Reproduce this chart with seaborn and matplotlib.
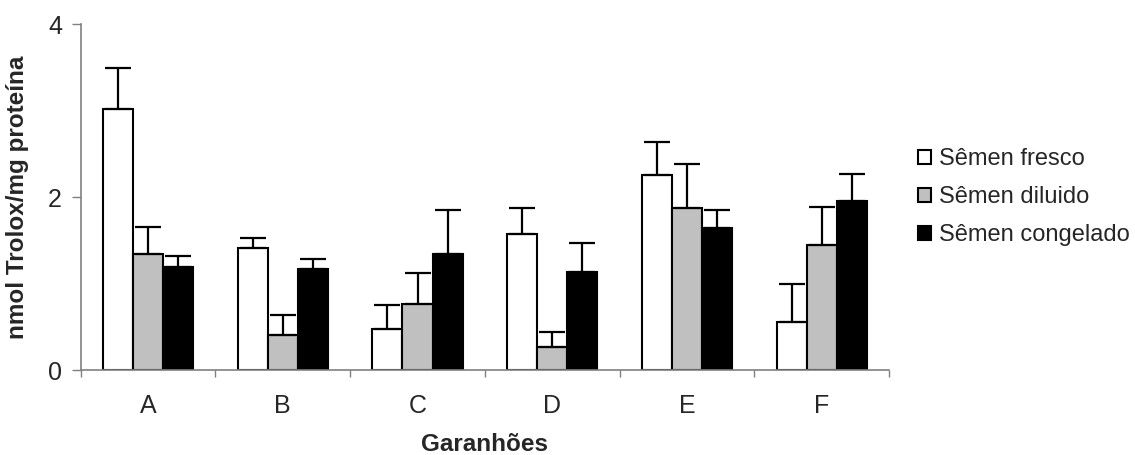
import pandas as pd
import seaborn as sns
import matplotlib.pyplot as plt
from matplotlib.ticker import FixedLocator

# %%
garanhoes = ["A", "B", "C", "D", "E", "F"]
tratamentos = ["Sêmen fresco", "Sêmen diluido", "Sêmen congelado"]
fresco = [3.02, 1.41, 0.47, 1.57, 2.26, 0.55]
diluido = [1.34, 0.40, 0.76, 0.27, 1.87, 1.45]
congelado = [1.19, 1.17, 1.34, 1.13, 1.64, 1.96]
fresco_err = [0.47, 0.12, 0.28, 0.30, 0.38, 0.45]
diluido_err = [0.32, 0.24, 0.36, 0.17, 0.51, 0.44]
congelado_err = [0.13, 0.11, 0.51, 0.34, 0.21, 0.31]
cores = ["white", "#C0C0C0", "black"]

# %%
df = pd.DataFrame({
    "garanhao": garanhoes * 3,
    "tratamento": [t for t in tratamentos for _ in garanhoes],
    "valor": fresco + diluido + congelado,
    "erro": fresco_err + diluido_err + congelado_err,
})

sns.set_style("white")
plt.rcParams["font.family"] = ["Liberation Sans", "DejaVu Sans"]

fig = plt.figure(figsize=(11.35, 4.55), dpi=100)
ax = fig.add_axes([0.0711, 0.1868, 0.7122, 0.7598])

sns.barplot(
    data=df,
    x="garanhao",
    y="valor",
    hue="tratamento",
    hue_order=tratamentos,
    palette=cores,
    width=0.67,
    edgecolor="black",
    linewidth=1.5,
    errorbar=None,
    ax=ax,
)

# error bars (upper only) on top of each bar
bars = [p for p in ax.patches if p.get_height() > 0]
bars = sorted(bars, key=lambda p: p.get_x())
lookup = {}
for (g, t), row in df.set_index(["garanhao", "tratamento"]).iterrows():
    lookup[(g, t)] = row
i = 0
for gi, g in enumerate(garanhoes):
    for t in tratamentos:
        p = bars[i]
        i += 1
        x = p.get_x() + p.get_width() / 2
        row = lookup[(g, t)]
        ax.errorbar(
            x, row.valor, yerr=[[0], [row.erro]],
            fmt="none", ecolor="black", elinewidth=1.6,
            capsize=9.5, capthick=1.6, zorder=1,
        )

ax.set_ylim(0, 4)
ax.set_xlim(-0.5, 5.5)
ax.set_yticks([0, 2, 4])
ax.set_yticklabels(["0", "2", "4"], fontsize=18)
ax.tick_params(axis="y", length=6.5, width=1, color="#808080", direction="out", left=True, pad=7)
ax.tick_params(axis="x", which="major", length=0, labelsize=18, pad=17)
ax.xaxis.set_minor_locator(FixedLocator([-0.5, 0.5, 1.5, 2.5, 3.5, 4.5, 5.5]))
ax.tick_params(axis="x", which="minor", length=5, width=1, color="#808080", direction="out", bottom=True)

for s in ["top", "right"]:
    ax.spines[s].set_visible(False)
for s in ["left", "bottom"]:
    ax.spines[s].set_color("#808080")
    ax.spines[s].set_linewidth(1.2)

ax.set_xlabel("Garanhões", fontsize=17.5, fontweight="bold", labelpad=11)
ax.set_ylabel("nmol Trolox/mg proteína", fontsize=17.5, fontweight="bold", labelpad=14)

handles, labels = ax.get_legend_handles_labels()
ax.legend_.remove()
fig.legend(
    handles, labels,
    loc="upper left", bbox_to_anchor=(0.8088, 0.674),
    frameon=False, fontsize=17, borderpad=0, borderaxespad=0,
    handlelength=0.56, handleheight=0.56, handletextpad=0.35, labelspacing=0.68,
)

fig.savefig("out.png", dpi=100)
